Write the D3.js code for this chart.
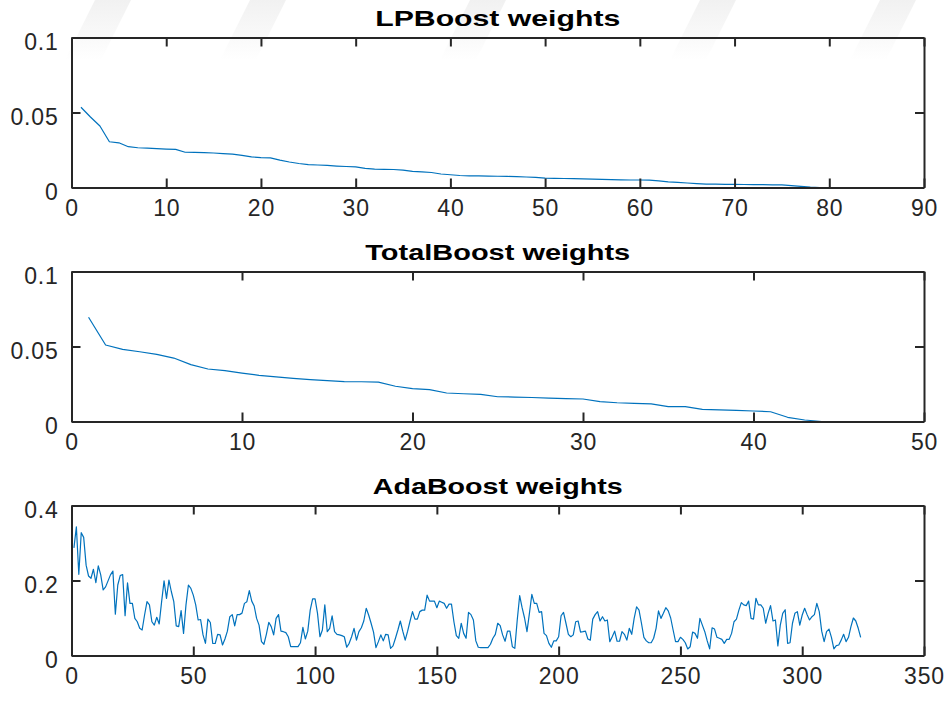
<!DOCTYPE html>
<html>
<head>
<meta charset="utf-8">
<script src="https://cdn.jsdelivr.net/npm/d3@7/dist/d3.min.js"></script>
<style>
  html, body { margin: 0; padding: 0; background: #ffffff; }
  svg { display: block; }
  .tick text { font-family: "Liberation Sans", Arial, Helvetica, sans-serif; }
</style>
</head>
<body>
<svg id="chart" width="952" height="702"></svg>
<script>
// ---- LPBoost hypothesis weights (sorted, 83 hypotheses) ----
const lpWeights = [
  0.0535, 0.0470, 0.0410, 0.0305, 0.0298, 0.0272, 0.0265, 0.0262, 0.0259, 0.0256,
  0.0254, 0.0235, 0.0234, 0.0233, 0.0230, 0.0226, 0.0222, 0.0214, 0.0204, 0.0199,
  0.0197, 0.0182, 0.0170, 0.0160, 0.0152, 0.0150, 0.0147, 0.0143, 0.0140, 0.0137,
  0.0127, 0.0122, 0.0121, 0.0120, 0.0116, 0.0107, 0.0104, 0.0100, 0.0090, 0.0085,
  0.0080, 0.0078, 0.0077, 0.0076, 0.0075, 0.0074, 0.0072, 0.0070, 0.0067, 0.0063,
  0.0061, 0.0060, 0.0059, 0.0058, 0.0056, 0.0054, 0.0052, 0.0051, 0.0050, 0.0050,
  0.0049, 0.0044, 0.0038, 0.0034, 0.0030, 0.0026, 0.0023, 0.0022, 0.0021, 0.0021,
  0.0020, 0.0019, 0.0019, 0.0018, 0.0017, 0.0013, 0.0008, 0.0003, 0.0000, 0.0000,
  0.0000, 0.0000, 0.0000
];

// ---- TotalBoost hypothesis weights (sorted, 46 hypotheses) ----
const totalWeights = [
  0.0695, 0.0510, 0.0481, 0.0465, 0.0448, 0.0423, 0.0379, 0.0350, 0.0339, 0.0323,
  0.0308, 0.0297, 0.0288, 0.0279, 0.0272, 0.0266, 0.0265, 0.0263, 0.0235, 0.0219,
  0.0212, 0.0190, 0.0185, 0.0181, 0.0165, 0.0163, 0.0160, 0.0156, 0.0153, 0.0150,
  0.0132, 0.0125, 0.0121, 0.0117, 0.0099, 0.0099, 0.0081, 0.0077, 0.0074, 0.0070,
  0.0065, 0.0028, 0.0010, 0.0000, 0.0000, 0.0000
];

// ---- AdaBoost hypothesis weights (in boosting order, 324 rounds) ----
const adaWeights = [
  0.287, 0.343, 0.2165, 0.3275, 0.315, 0.241, 0.212, 0.206, 0.230, 0.194,
  0.239, 0.215, 0.175, 0.183, 0.199, 0.215, 0.225, 0.110, 0.188, 0.213,
  0.216, 0.106, 0.194, 0.139, 0.139, 0.099, 0.090, 0.0725, 0.068, 0.108,
  0.1435, 0.135, 0.090, 0.081, 0.102, 0.084, 0.1435, 0.199, 0.1525, 0.201,
  0.170, 0.1435, 0.079, 0.077, 0.1195, 0.059, 0.135, 0.188, 0.179, 0.161,
  0.135, 0.0947, 0.096, 0.055, 0.0325, 0.097, 0.088, 0.032, 0.032, 0.0565,
  0.055, 0.028, 0.044, 0.065, 0.1035, 0.109, 0.079, 0.109, 0.109, 0.113,
  0.139, 0.1435, 0.173, 0.145, 0.132, 0.099, 0.081, 0.037, 0.030, 0.0565,
  0.0885, 0.077, 0.055, 0.099, 0.109, 0.065, 0.0635, 0.061, 0.050, 0.0235,
  0.0235, 0.0235, 0.0235, 0.034, 0.075, 0.044, 0.065, 0.121, 0.151, 0.151,
  0.1125, 0.050, 0.068, 0.135, 0.0635, 0.0725, 0.106, 0.0635, 0.0565, 0.055,
  0.053, 0.050, 0.022, 0.0325, 0.050, 0.0725, 0.041, 0.0635, 0.074, 0.092,
  0.126, 0.108, 0.086, 0.0625, 0.021, 0.037, 0.055, 0.039, 0.0565, 0.055,
  0.019, 0.0255, 0.046, 0.068, 0.092, 0.065, 0.041, 0.065, 0.092, 0.117,
  0.097, 0.097, 0.117, 0.121, 0.121, 0.161, 0.145, 0.145, 0.145, 0.1275,
  0.145, 0.142, 0.139, 0.126, 0.137, 0.137, 0.090, 0.053, 0.046, 0.086,
  0.059, 0.046, 0.115, 0.109, 0.0947, 0.039, 0.022, 0.021, 0.021, 0.021,
  0.021, 0.030, 0.046, 0.0565, 0.086, 0.0795, 0.055, 0.038, 0.065, 0.065,
  0.0235, 0.019, 0.0947, 0.1595, 0.1275, 0.100, 0.0635, 0.1125, 0.163, 0.139,
  0.139, 0.115, 0.117, 0.059, 0.053, 0.0325, 0.022, 0.039, 0.039, 0.050,
  0.106, 0.115, 0.086, 0.0565, 0.050, 0.055, 0.090, 0.092, 0.0625, 0.0635,
  0.065, 0.044, 0.041, 0.097, 0.109, 0.117, 0.092, 0.1035, 0.092, 0.0947,
  0.037, 0.050, 0.065, 0.038, 0.038, 0.0635, 0.0565, 0.041, 0.0725, 0.0565,
  0.099, 0.130, 0.121, 0.086, 0.0485, 0.039, 0.034, 0.034, 0.046, 0.0725,
  0.119, 0.099, 0.1125, 0.1275, 0.119, 0.100, 0.068, 0.037, 0.037, 0.0485,
  0.043, 0.034, 0.0175, 0.0235, 0.0625, 0.059, 0.046, 0.099, 0.081, 0.0635,
  0.039, 0.0175, 0.074, 0.0705, 0.0485, 0.046, 0.043, 0.0325, 0.043, 0.043,
  0.059, 0.090, 0.097, 0.121, 0.141, 0.135, 0.133, 0.145, 0.099, 0.097,
  0.1525, 0.135, 0.135, 0.126, 0.086, 0.1125, 0.133, 0.092, 0.0947, 0.0255,
  0.081, 0.1125, 0.122, 0.0325, 0.034, 0.086, 0.1125, 0.117, 0.081, 0.108,
  0.126, 0.109, 0.0947, 0.1035, 0.109, 0.139, 0.117, 0.065, 0.037, 0.0635,
  0.0705, 0.0485, 0.0175, 0.0265, 0.028, 0.041, 0.0565, 0.037, 0.0485, 0.077,
  0.100, 0.092, 0.0725, 0.0485
];

// ---- Panel titles and tick values ----
const titles = ["LPBoost weights", "TotalBoost weights", "AdaBoost weights"];
const lpXTicks = [0, 10, 20, 30, 40, 50, 60, 70, 80, 90];
const lpYTicks = [0, 0.05, 0.1];
const lpYLabels = ["0", "0.05", "0.1"];
const totalXTicks = [0, 10, 20, 30, 40, 50];
const totalYTicks = [0, 0.05, 0.1];
const totalYLabels = ["0", "0.05", "0.1"];
const adaXTicks = [0, 50, 100, 150, 200, 250, 300, 350];
const adaYTicks = [0, 0.2, 0.4];
const adaYLabels = ["0", "0.2", "0.4"];

const svg = d3.select("#chart");

// faint diagonal background bands along the top edge
const bandGrad = svg.append("defs").append("linearGradient")
  .attr("id", "bandFade").attr("x1", 0).attr("y1", 0).attr("x2", 0).attr("y2", 1);
bandGrad.append("stop").attr("offset", "0%").attr("stop-color", "#f1f1f1").attr("stop-opacity", 1);
bandGrad.append("stop").attr("offset", "100%").attr("stop-color", "#f1f1f1").attr("stop-opacity", 0);
const bandStarts = [95, 250, 470, 700, 880];
svg.append("g").selectAll("path").data(bandStarts).join("path")
  .attr("d", x0 => `M${x0},0 L${x0 + 36},0 L${x0 + 6},60 L${x0 - 30},60 Z`)
  .attr("fill", "url(#bandFade)");

const left = 71.5, right = 924;
const panelHeight = 150;
const panels = [
  { title: titles[0], values: lpWeights, xDomain: [0, 90], xTicks: lpXTicks,
    yDomain: [0, 0.1], yTicks: lpYTicks, yLabels: lpYLabels, top: 37.5, titleLen: 245 },
  { title: titles[1], values: totalWeights, xDomain: [0, 50], xTicks: totalXTicks,
    yDomain: [0, 0.1], yTicks: totalYTicks, yLabels: totalYLabels, top: 271.5, titleLen: 265 },
  { title: titles[2], values: adaWeights, xDomain: [0, 350], xTicks: adaXTicks,
    yDomain: [0, 0.4], yTicks: adaYTicks, yLabels: adaYLabels, top: 505.5, titleLen: 250 }
];

const frameColor = "#262626";
const tickLen = 9;

panels.forEach(p => {
  const x = d3.scaleLinear().domain(p.xDomain).range([left, right]);
  const y = d3.scaleLinear().domain(p.yDomain).range([p.top + panelHeight, p.top]);
  const g = svg.append("g");

  // data line
  const line = d3.line().x((d, i) => x(i + 1)).y(d => y(d));
  g.append("path")
    .datum(p.values)
    .attr("fill", "none")
    .attr("stroke", "#0072BD")
    .attr("stroke-width", 1.2)
    .attr("stroke-linejoin", "round")
    .attr("d", line);

  const styleAxis = sel => {
    sel.selectAll(".domain").attr("stroke", frameColor).attr("stroke-width", 2);
    sel.selectAll(".tick line").attr("stroke", frameColor).attr("stroke-width", 2);
    sel.selectAll(".tick text")
      .attr("fill", frameColor)
      .style("font-size", "23px")
      .style("letter-spacing", "0.8px");
  };

  // bottom axis with labels, ticks pointing inward
  const xb = g.append("g").attr("transform", `translate(0,${p.top + panelHeight})`)
    .call(d3.axisBottom(x).tickValues(p.xTicks).tickFormat(d3.format("d"))
      .tickSizeInner(-tickLen).tickSizeOuter(0).tickPadding(12));
  xb.selectAll(".tick text").attr("dy", "0.71em");
  styleAxis(xb);

  // top axis, ticks only
  const xt = g.append("g").attr("transform", `translate(0,${p.top})`)
    .call(d3.axisTop(x).tickValues(p.xTicks).tickFormat("")
      .tickSizeInner(-tickLen).tickSizeOuter(0));
  styleAxis(xt);

  // left axis with labels
  const yl = g.append("g").attr("transform", `translate(${left},0)`)
    .call(d3.axisLeft(y).tickValues(p.yTicks).tickFormat((d, i) => p.yLabels[i])
      .tickSizeInner(-tickLen).tickSizeOuter(0).tickPadding(13));
  yl.selectAll(".tick text").attr("dy", "0.5em");
  styleAxis(yl);

  // right axis, ticks only
  const yr = g.append("g").attr("transform", `translate(${right},0)`)
    .call(d3.axisRight(y).tickValues(p.yTicks).tickFormat("")
      .tickSizeInner(-tickLen).tickSizeOuter(0));
  styleAxis(yr);

  // title
  g.append("text")
    .attr("x", (left + right) / 2)
    .attr("y", p.top - 12)
    .attr("text-anchor", "middle")
    .attr("font-family", "'Liberation Sans', Arial, Helvetica, sans-serif")
    .attr("font-weight", "bold")
    .attr("font-size", 22.5)
    .attr("fill", "#000")
    .attr("textLength", p.titleLen)
    .attr("lengthAdjust", "spacingAndGlyphs")
    .text(p.title);
});
</script>
</body>
</html>
